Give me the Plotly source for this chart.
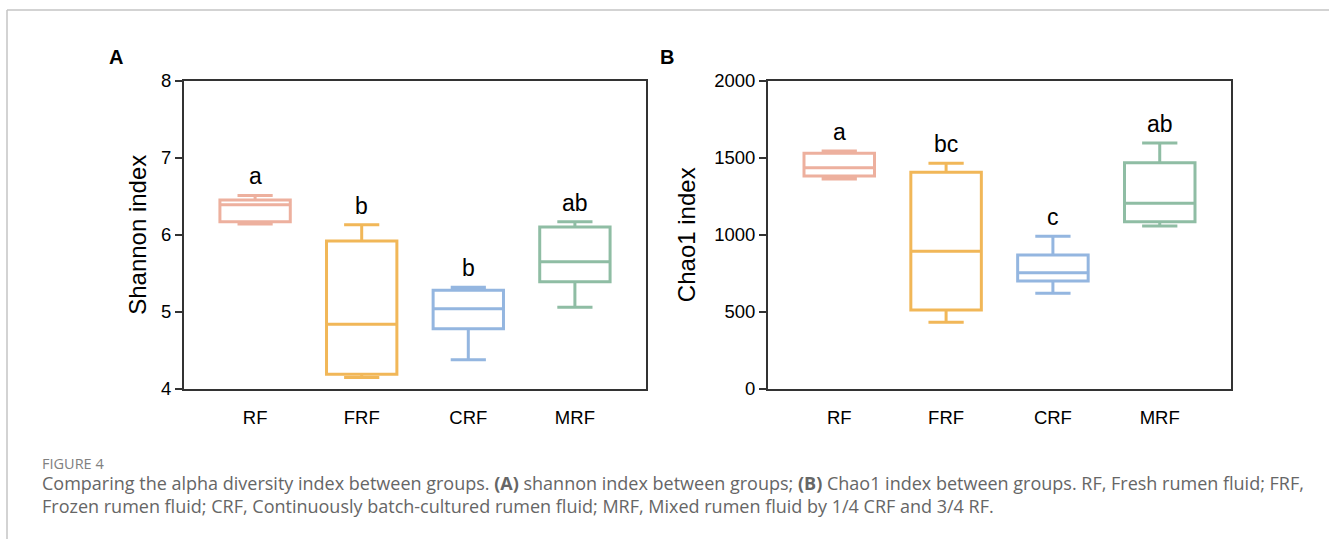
import plotly.graph_objects as go

groups = ["RF", "FRF", "CRF", "MRF"]
colors = ["#EDB09E", "#F1B758", "#94B6E0", "#8FBDA4"]

# Panel A: Shannon index (min, q1, median, q3, max)
shannon_min = [6.14, 4.15, 4.38, 5.06]
shannon_q1 = [6.17, 4.19, 4.78, 5.39]
shannon_med = [6.39, 4.84, 5.04, 5.65]
shannon_q3 = [6.45, 5.92, 5.28, 6.10]
shannon_max = [6.51, 6.13, 5.32, 6.17]
shannon_letters = ["a", "b", "b", "ab"]

# Panel B: Chao1 index
chao_min = [1361, 432, 620, 1057]
chao_q1 = [1381, 512, 700, 1085]
chao_med = [1435, 893, 754, 1204]
chao_q3 = [1528, 1405, 869, 1467]
chao_max = [1543, 1463, 990, 1595]
chao_letters = ["a", "bc", "c", "ab"]

fig = go.Figure()

def add_panel(xa, ya, mn, q1, md, q3, mx, letters):
    for i, g in enumerate(groups):
        fig.add_trace(go.Box(
            x=[g], q1=[q1[i]], median=[md[i]], q3=[q3[i]],
            lowerfence=[mn[i]], upperfence=[mx[i]],
            width=0.66, whiskerwidth=0.5,
            line=dict(color=colors[i], width=3),
            fillcolor="white", boxpoints=False, showlegend=False,
            xaxis=xa, yaxis=ya, hoverinfo="skip"))
        fig.add_annotation(x=g, y=mx[i], xref=xa, yref=ya, text=letters[i],
                           showarrow=False, yanchor="bottom", yshift=4,
                           font=dict(family="Liberation Sans, Arial", size=23, color="black"))

add_panel("x", "y", shannon_min, shannon_q1, shannon_med, shannon_q3, shannon_max, shannon_letters)
add_panel("x2", "y2", chao_min, chao_q1, chao_med, chao_q3, chao_max, chao_letters)

W, H = 1329, 539
ydom = [1 - 389 / H, 1 - 80.5 / H]
axfont = dict(family="Liberation Sans, Arial", size=18.5, color="black")
xcommon = dict(type="category", categoryorder="array", categoryarray=groups,
               range=[-0.667, 3.667], showline=True, linecolor="#333", linewidth=2,
               mirror=True, ticks="", ticklabelstandoff=11, tickfont=axfont,
               showgrid=False, zeroline=False, automargin=False)
ycommon = dict(showline=True, linecolor="#333", linewidth=2, mirror=True,
               ticks="outside", ticklen=7, tickwidth=1.5, tickcolor="#333",
               tickfont=axfont, showgrid=False, zeroline=False, domain=ydom,
               ticklabelstandoff=0, automargin=False)

fig.update_layout(
    template="none",
    width=W, height=H, margin=dict(l=0, r=0, t=0, b=0, pad=0, autoexpand=False),
    paper_bgcolor="white", plot_bgcolor="white", showlegend=False,
    font=dict(family="Liberation Sans, Arial", color="black"),
    xaxis=dict(domain=[184 / W, 646 / W], anchor="y", **xcommon),
    xaxis2=dict(domain=[768 / W, 1231 / W], anchor="y2", **xcommon),
    yaxis=dict(anchor="x", range=[4, 8], tickvals=[4, 5, 6, 7, 8],
               title=dict(text="Shannon index", font=dict(size=24), standoff=8), **ycommon),
    yaxis2=dict(anchor="x2", range=[0, 2000], tickvals=[0, 500, 1000, 1500, 2000],
                title=dict(text="Chao1 index", font=dict(size=24), standoff=12), **ycommon),
)

# panel letters
fig.add_annotation(x=116 / W, y=1 - 57 / H, xref="paper", yref="paper", text="<b>A</b>",
                   showarrow=False, xanchor="center", yanchor="middle",
                   font=dict(family="Liberation Sans, Arial", size=20, color="black"))
fig.add_annotation(x=667 / W, y=1 - 57 / H, xref="paper", yref="paper", text="<b>B</b>",
                   showarrow=False, xanchor="center", yanchor="middle",
                   font=dict(family="Liberation Sans, Arial", size=20, color="black"))

# caption
fig.add_annotation(x=40 / W, y=1 - 463 / H, xref="paper", yref="paper", text="FIGURE 4",
                   showarrow=False, xanchor="left", yanchor="middle",
                   font=dict(family="Open Sans", size=14.5, color="#808080"))
caption = ("Comparing the alpha diversity index between groups. <b>(A)</b> shannon index between groups; "
           "<b>(B)</b> Chao1 index between groups. RF, Fresh rumen fluid; FRF,<br>"
           "Frozen rumen fluid; CRF, Continuously batch-cultured rumen fluid; MRF, Mixed rumen fluid by 1/4 CRF and 3/4 RF.")
fig.add_annotation(x=40 / W, y=1 - 494 / H, xref="paper", yref="paper", text=caption,
                   showarrow=False, xanchor="left", yanchor="middle", align="left",
                   font=dict(family="Open Sans", size=18, color="#666666"))

# frame lines (top and left)
fig.add_shape(type="line", xref="paper", yref="paper", x0=7 / W, x1=1, y0=1 - 10 / H, y1=1 - 10 / H,
              line=dict(color="#c4c4c4", width=1.5))
fig.add_shape(type="line", xref="paper", yref="paper", x0=7 / W, x1=7 / W, y0=0, y1=1 - 10 / H,
              line=dict(color="#c4c4c4", width=1.5))

fig.write_html("out.html")
